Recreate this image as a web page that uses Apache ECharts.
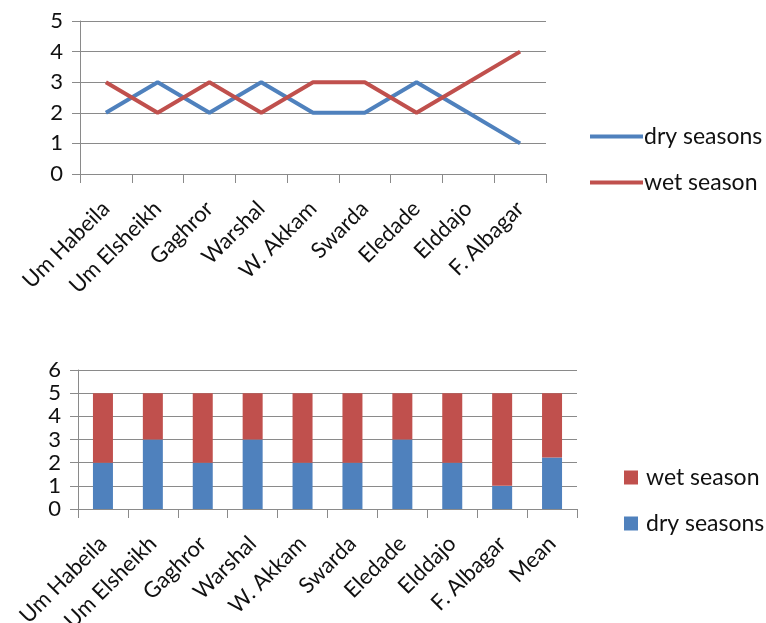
<!DOCTYPE html>
<html>
<head>
<meta charset="utf-8">
<script src="https://cdn.jsdelivr.net/npm/echarts@6/dist/echarts.min.js"></script>
<style>
  html, body { margin: 0; padding: 0; background: #fff; }
  #chart { width: 766px; height: 623px; }
</style>
</head>
<body>
<div id="chart"></div>
<script>
// Sites along the survey transect
const sites = ['Um Habeila', 'Um Elsheikh', 'Gaghror', 'Warshal', 'W. Akkam', 'Swarda', 'Eledade', 'Elddajo', 'F. Albagar'];
const barCategories = sites.concat(['Mean']);

// Scores per site for each season
const dryScores = [2, 3, 2, 3, 2, 2, 3, 2, 1];
const wetScores = [3, 2, 3, 2, 3, 3, 2, 3, 4];

// Stacked values, with the site mean appended
const dryStack = dryScores.concat([2.22]);
const wetStack = wetScores.concat([2.78]);

const BLUE = '#4F81BD';
const RED = '#C0504D';
const GRID = '#8a8a8a';
const FONT = 'Lato';

const chart = echarts.init(document.getElementById('chart'), null, { renderer: 'canvas' });

function catAxis(gridIndex, data) {
  return {
    type: 'category', gridIndex, data, boundaryGap: true,
    axisLine: { lineStyle: { color: GRID, width: 1 } },
    axisTick: { show: true, length: 9, interval: 0, lineStyle: { color: GRID } },
    axisLabel: { interval: 0, rotate: 45, margin: 31, color: '#111', fontSize: 22, fontFamily: FONT }
  };
}
function valAxis(gridIndex, max) {
  return {
    type: 'value', gridIndex, min: 0, max, interval: 1,
    axisLine: { show: true, lineStyle: { color: GRID, width: 1 } },
    axisTick: { show: true, length: 8, lineStyle: { color: GRID } },
    splitLine: { show: true, lineStyle: { color: GRID, width: 1 } },
    axisLabel: { margin: 17, color: '#111', fontSize: 22, fontFamily: FONT, showMinLabel: true, showMaxLabel: true }
  };
}

const legendText = { fontSize: 23, color: '#111', fontFamily: FONT };

chart.setOption({
  animation: false,
  backgroundColor: '#fff',
  textStyle: { fontFamily: FONT },
  grid: [
    { left: 80, top: 21, width: 466, height: 153, containLabel: false, outerBoundsMode: 'none' },
    { left: 78, top: 370, width: 499, height: 139, containLabel: false, outerBoundsMode: 'none' }
  ],
  xAxis: [catAxis(0, sites), catAxis(1, barCategories)],
  yAxis: [valAxis(0, 5), valAxis(1, 6)],
  legend: [
    { data: ['dry seasons'], left: 585, top: 120, icon: 'rect', itemWidth: 53, itemHeight: 4,
      textStyle: Object.assign({ padding: [0, 0, 0, -4] }, legendText) },
    { data: ['wet season'], left: 585, top: 166, icon: 'rect', itemWidth: 53, itemHeight: 4,
      textStyle: Object.assign({ padding: [0, 0, 0, -4] }, legendText) },
    { data: ['wet season '], left: 619, top: 461, icon: 'rect', itemWidth: 14, itemHeight: 14,
      textStyle: Object.assign({ padding: [0, 0, 0, 3] }, legendText) },
    { data: ['dry seasons '], left: 619, top: 507, icon: 'rect', itemWidth: 14, itemHeight: 14,
      textStyle: Object.assign({ padding: [0, 0, 0, 3] }, legendText) }
  ],
  series: [
    { name: 'dry seasons', type: 'line', xAxisIndex: 0, yAxisIndex: 0, data: dryScores,
      showSymbol: false, lineStyle: { color: BLUE, width: 4 }, itemStyle: { color: BLUE } },
    { name: 'wet season', type: 'line', xAxisIndex: 0, yAxisIndex: 0, data: wetScores,
      showSymbol: false, lineStyle: { color: RED, width: 4 }, itemStyle: { color: RED } },
    { name: 'dry seasons ', type: 'bar', stack: 'season', xAxisIndex: 1, yAxisIndex: 1, data: dryStack,
      barWidth: 20, itemStyle: { color: BLUE } },
    { name: 'wet season ', type: 'bar', stack: 'season', xAxisIndex: 1, yAxisIndex: 1, data: wetStack,
      barWidth: 20, itemStyle: { color: RED } }
  ]
});
</script>
</body>
</html>
